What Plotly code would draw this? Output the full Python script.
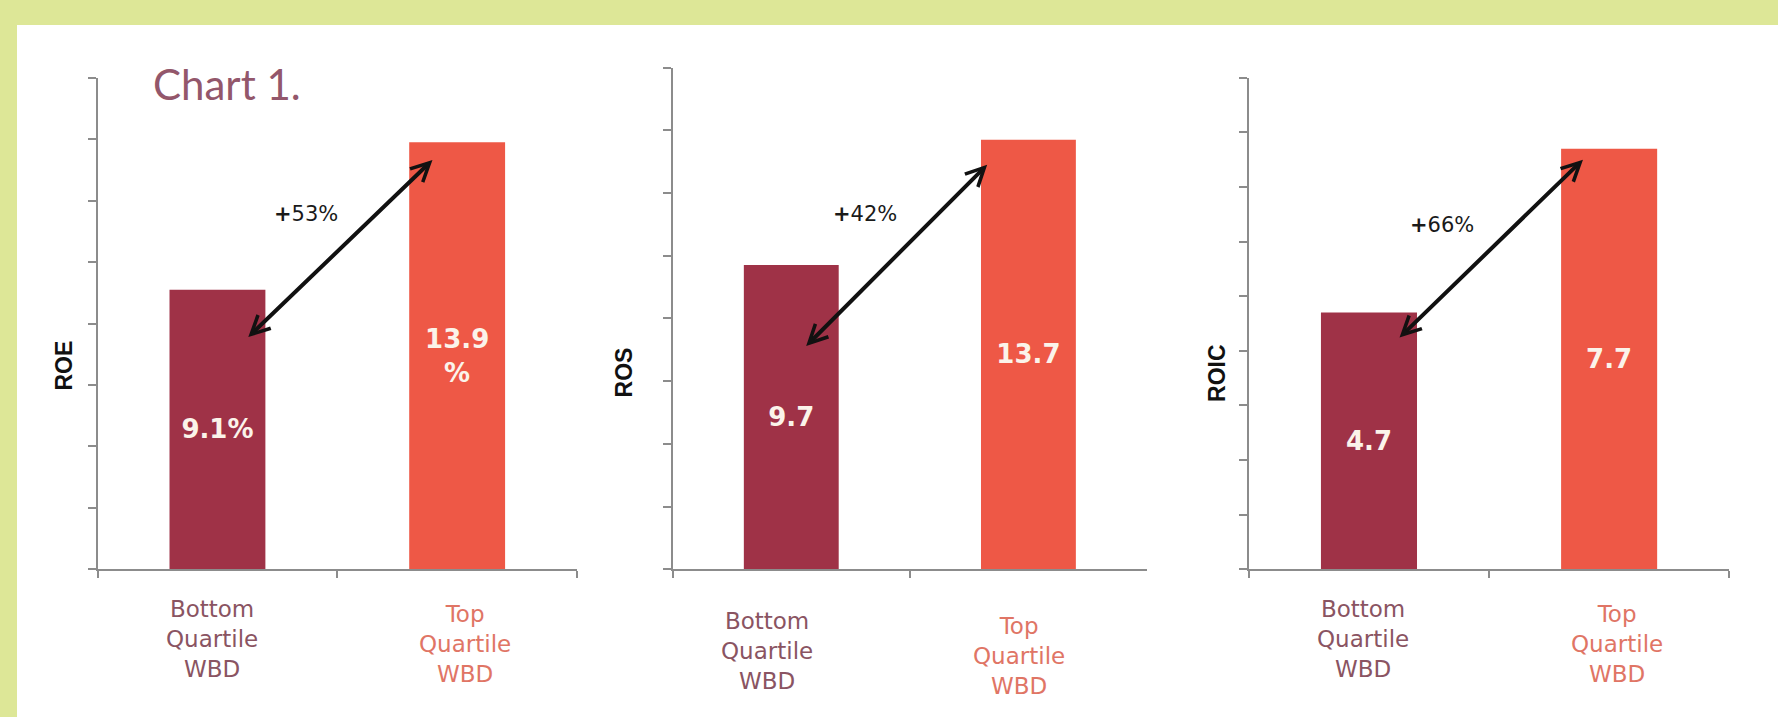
import plotly.graph_objects as go

# ---------------- data ----------------
categories = ["Bottom Quartile WBD", "Top Quartile WBD"]
category_text = ["Bottom<br>Quartile<br>WBD", "Top<br>Quartile<br>WBD"]
metrics = ["ROE", "ROS", "ROIC"]
roe_values = [9.1, 13.9]
ros_values = [9.7, 13.7]
roic_values = [4.7, 7.7]
roe_labels = ["9.1%", "13.9<br>%"]
ros_labels = ["9.7", "13.7"]
roic_labels = ["4.7", "7.7"]
uplift_labels = ["+53%", "+42%", "+66%"]
axis_max = [16, 16, 9]
axis_step = [2, 2, 1]
title_text = "Chart 1."

values = [roe_values, ros_values, roic_values]
labels = [roe_labels, ros_labels, roic_labels]

# ---------------- style / layout (pixels) ----------------
W, H = 1778, 717
BAR_COLORS = ["#9f3247", "#ee5846"]
CAT_COLORS = ["#8a5462", "#e07565"]
AXIS_COLOR = "#8c8c8c"
GREEN = "#dde797"
BOTTOM_PX = 569.3
panels = [
    dict(x0=97.6, x1=577.0, top=77.7, ytitle=(63.5, 366),
         arrow=((0.1225, 7.51), (0.897, 13.32)), uplift=(0.369, 11.56),
         cat_y=[639, 644.3], cat_shift=[-5, 8]),
    dict(x0=672.7, x1=1147.0, top=67.5, ytitle=(623.7, 372.7),
         arrow=((0.0565, 7.07), (0.826, 12.9)), uplift=(0.309, 11.33),
         cat_y=[650.5, 656], cat_shift=[-24, -9]),
    dict(x0=1248.9, x1=1729.2, top=77.7, ytitle=(1216.2, 372.7),
         arrow=((0.121, 4.215), (0.891, 7.50)), uplift=(0.306, 6.31),
         cat_y=[639, 644.3], cat_shift=[-6, 8]),
]

def px_x(p):
    return p / W

def px_y(p):
    return 1 - p / H

fig = go.Figure()
annotations = []
layout = dict(
    width=W, height=H,
    margin=dict(l=0, r=0, t=0, b=0),
    paper_bgcolor="white", plot_bgcolor="white",
    showlegend=False,
)

for i, pnl in enumerate(panels):
    n = "" if i == 0 else str(i + 1)
    xa, ya = "x" + n, "y" + n
    fig.add_trace(go.Bar(
        x=categories, y=values[i], xaxis=xa, yaxis=ya,
        marker=dict(color=BAR_COLORS, line=dict(width=0)),
        width=0.4,
        text=labels[i], textposition="inside", insidetextanchor="middle",
        constraintext="none", textangle=0,
        textfont=dict(family="DejaVu Sans", size=26, color="#fbf3ea", weight="bold"),
        hoverinfo="skip",
    ))
    layout["xaxis" + n] = dict(
        domain=[px_x(pnl["x0"]), px_x(pnl["x1"])], anchor=ya,
        type="category", range=[-0.5, 1.5],
        showline=True, linecolor=AXIS_COLOR, linewidth=2,
        ticks="outside", tickson="boundaries", ticklen=7, tickwidth=2, tickcolor=AXIS_COLOR,
        showticklabels=False, showgrid=False, zeroline=False, fixedrange=True,
    )
    layout["yaxis" + n] = dict(
        domain=[px_y(BOTTOM_PX), px_y(pnl["top"])], anchor=xa,
        range=[0, axis_max[i]], tick0=0, dtick=axis_step[i],
        showline=True, linecolor=AXIS_COLOR, linewidth=2,
        ticks="outside", ticklen=8, tickwidth=2, tickcolor=AXIS_COLOR,
        showticklabels=False, showgrid=False, zeroline=False, fixedrange=True,
    )
    # y-axis title
    annotations.append(dict(
        xref="paper", yref="paper", x=px_x(pnl["ytitle"][0]), y=px_y(pnl["ytitle"][1]),
        text="<b>%s</b>" % metrics[i], textangle=-90, showarrow=False,
        xanchor="center", yanchor="middle",
        font=dict(family="Liberation Sans", size=23, color="#111111"),
    ))
    # double-headed arrow
    (sx, sy), (ex, ey) = pnl["arrow"]
    annotations.append(dict(
        xref=xa, yref=ya, axref=xa, ayref=ya,
        x=ex, y=ey, ax=sx, ay=sy, text="", showarrow=True,
        arrowhead=5, startarrowhead=5, arrowside="end+start",
        arrowsize=0.9, startarrowsize=0.9, arrowwidth=4, arrowcolor="#111111",
        standoff=0, startstandoff=0,
    ))
    # uplift label
    annotations.append(dict(
        xref=xa, yref=ya, x=pnl["uplift"][0], y=pnl["uplift"][1],
        text=uplift_labels[i].replace("+", "<b>+</b>", 1), showarrow=False,
        xanchor="center", yanchor="middle",
        font=dict(family="DejaVu Sans", size=21, color="#1a1a1a"),
    ))
    # category labels
    for j in range(2):
        annotations.append(dict(
            xref=xa, yref="paper", x=j, y=px_y(pnl["cat_y"][j]),
            xshift=pnl["cat_shift"][j],
            text=category_text[j], showarrow=False,
            xanchor="center", yanchor="middle", align="center",
            font=dict(family="DejaVu Sans", size=23, color=CAT_COLORS[j]),
        ))

# chart title
annotations.append(dict(
    xref="paper", yref="paper", x=px_x(151), y=px_y(84),
    text=title_text, showarrow=False, xanchor="left", yanchor="middle",
    font=dict(family="Lato", size=42, color="#93576b"),
))

layout["annotations"] = annotations
layout["shapes"] = [
    dict(type="rect", xref="paper", yref="paper", x0=0, x1=1, y0=px_y(25), y1=1,
         fillcolor=GREEN, line=dict(width=0), layer="above"),
    dict(type="rect", xref="paper", yref="paper", x0=0, x1=px_x(17), y0=0, y1=1,
         fillcolor=GREEN, line=dict(width=0), layer="above"),
]
fig.update_layout(**layout)
fig.write_html("out.html")
